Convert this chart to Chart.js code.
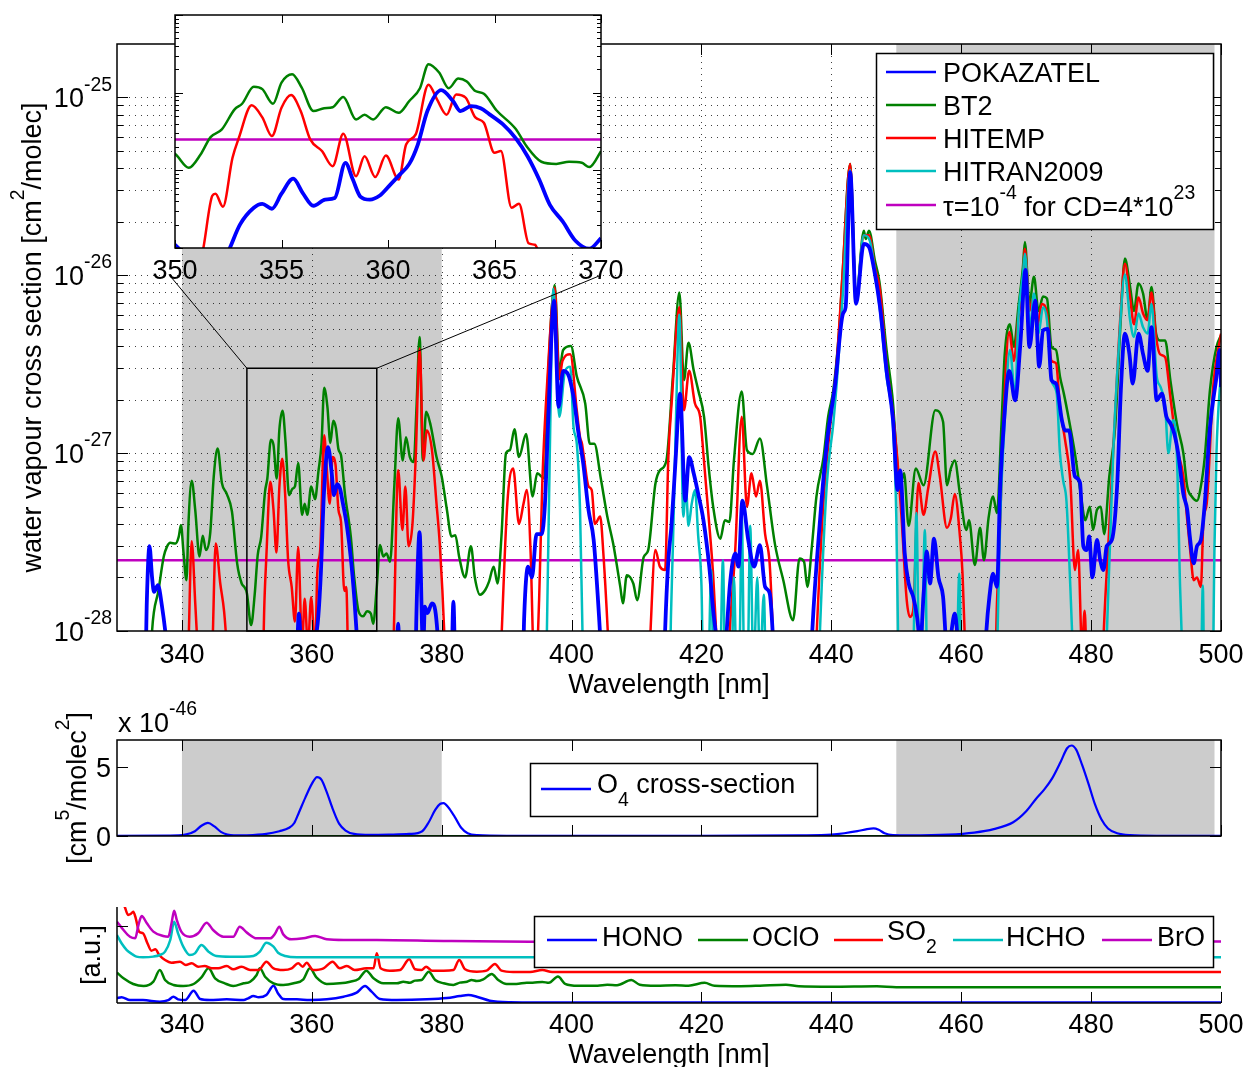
<!DOCTYPE html>
<html>
<head>
<meta charset="utf-8">
<script src="https://cdn.jsdelivr.net/npm/chart.js@4.4.1/dist/chart.umd.min.js"></script>
<style>
  body { margin: 0; background: #fff; width: 1247px; height: 1067px; overflow: hidden; position: relative; }
  canvas { position: absolute; left: 0; }
</style>
</head>
<body>
<canvas id="cMain" width="1247" height="710" style="top:0"></canvas>
<canvas id="cMid" width="1247" height="180" style="top:690px"></canvas>
<canvas id="cBot" width="1247" height="187" style="top:880px"></canvas>
<canvas id="cInset" width="640" height="300" style="top:0"></canvas>
<script>
// Water vapour cross sections, in units of 1e-28 cm^2/molec, as [wavelength nm, value].
// Values below 1 sit under the main axis floor; the inset (350-370 nm) shows them down to 0.1.
const pokazatel = [
  [330,0.3],[334.2,0.3],[334.6,1.5],[335.0,3.0],[335.4,2.0],[335.7,1.66],[336.3,1.81],[336.9,1.4],[337.7,0.8],[338.5,0.3],
  [349.5,0.14],[350.0,0.11],[350.3,0.09],[350.8,0.05],[352.0,0.05],[352.5,0.09],[353.05,0.2],[353.7,0.33],[354.1,0.37],
  [354.55,0.32],[355.0,0.5],[355.55,0.78],[356.0,0.51],[356.5,0.35],[357.05,0.42],[357.5,0.44],[358.0,1.25],[358.35,0.76],
  [358.7,0.46],[359.15,0.42],[359.6,0.47],[360.1,0.65],[360.55,0.88],[361.0,1.21],[361.4,2.15],[361.85,5.8],[362.5,10.8],
  [363.05,7.8],[363.4,5.8],[363.9,6.7],[364.35,6.3],[364.75,5.3],[365.4,3.9],[366.0,2.58],[366.55,1.52],[367.1,0.76],
  [367.6,0.36],[368.2,0.22],[368.8,0.124],[369.45,0.098],[370.0,0.134],[370.6,0.2],
  [372.8,0.3],[373.3,1.1],[373.7,0.3],[375.8,0.3],[376.1,1.2],[376.6,3.6],[377.0,1.0],[377.2,0.9],[377.4,1.37],[377.8,1.26],
  [378.5,1.43],[379.0,1.31],[379.5,0.8],[380.0,0.3],[381.4,0.4],[381.8,1.46],[382.2,0.4],[383,0.3],
  [392.3,0.3],[392.7,1.2],[393.3,2.3],[393.9,2.0],[394.6,3.5],[395.4,3.5],[395.9,5.2],[396.4,15.3],[397.3,72],[398.0,18.2],
  [398.7,29],[399.4,28],[400.3,20.7],[401.0,13.4],[401.8,8.7],[402.6,4.8],[403.4,3.25],[404.1,1.43],[404.5,0.8],[405.0,0.3],
  [414.0,0.3],[414.4,1.0],[414.9,2.5],[415.4,4.0],[416.0,9],[416.7,21.6],[417.5,5.4],[418.1,9.5],[418.8,7.7],[419.5,5.9],
  [420.3,4.2],[421.2,2.3],[421.8,1.31],[422.7,0.7],[423.2,0.5],[423.8,0.9],[424.4,1.85],[425.2,2.73],[425.7,2.3],[426.3,5.4],
  [427.2,3.25],[428.1,2.3],[429.0,3.04],[429.8,1.77],[430.5,1.63],[431.1,0.8],[431.6,0.3],
  [436.5,0.3],[437.0,0.9],[438.3,4.4],[439.3,11.3],[440.6,24.6],[441.8,61],[442.2,66],[442.9,380],[443.8,69],[445.0,150],
  [445.8,144],[446.7,102],[447.5,66],[448.5,29],[449.5,15.3],[450.2,6.2],[450.6,8.0],[451.3,2.73],[451.9,1.85],[452.6,1.56],
  [453.2,1.2],[453.7,0.85],[454.2,1.6],[454.7,2.8],[455.2,1.85],[455.8,3.3],[456.5,2.0],[457.2,1.56],[457.8,0.8],[458.3,0.9],
  [459.0,1.25],[459.6,0.7],[460.0,0.3],
  [463.3,0.3],[463.8,0.9],[464.4,1.63],[464.9,2.1],[465.5,1.77],[466.0,6.5],[466.6,15.3],[467.4,29],[468.3,19.8],[469.1,41],
  [469.9,107],[470.5,39.5],[471.4,72],[472.0,30.6],[472.6,49],[473.3,50],[473.9,25.7],[474.6,24.6],[475.5,15.3],[476.0,13.4],
  [476.6,13.4],[477.5,7.4],[478.3,6.8],[478.8,3.0],[479.3,2.85],[479.7,3.4],[480.2,2.0],[480.9,3.25],[481.4,2.5],[481.9,2.2],
  [482.4,3.0],[483.2,3.25],[484.0,6.5],[484.6,23.5],[485.2,47],[485.9,36],[486.4,24.6],[487.3,47],[488.0,36],[488.7,29],
  [489.3,51],[490.1,19.8],[490.9,21.6],[491.6,16],[492.2,14.7],[492.8,12.9],[493.4,10],[494.2,5.9],[494.8,4.8],[495.2,3.4],
  [495.8,2.4],[496.3,3.0],[496.9,3.25],[497.5,5.2],[498.3,14],[499.3,26.8],[499.8,38],[500.0,23.5]
];
const bt2 = [
  [330,0.3],[334.8,0.3],[335.4,1.0],[336.4,1.7],[337.2,2.62],[337.7,2.98],[338.2,3.13],[339.0,3.1],[339.5,3.38],[339.85,3.94],
  [340.25,2.73],[340.7,1.93],[341.0,4.0],[341.5,7.0],[342.05,4.78],[342.7,2.62],[343.2,3.43],[343.7,2.85],[344.35,3.54],
  [344.9,7.4],[345.5,10.6],[346.15,6.8],[346.9,5.9],[347.7,4.7],[348.5,2.4],[349.2,1.85],[349.6,1.77],[350.0,1.63],
  [350.65,1.08],[351.2,1.6],[351.67,2.68],[352.2,3.37],[352.8,6.1],[353.15,7.2],[353.7,11.9],[354.1,11.1],[354.6,7.2],
  [355.0,13.5],[355.5,17.3],[355.95,11.6],[356.5,5.8],[357.0,6.3],[357.4,6.5],[357.9,8.8],[358.5,4.5],[358.9,5.2],[359.3,4.5],
  [359.9,6.5],[360.5,5.5],[361.0,7.8],[361.5,11.4],[361.9,23.3],[362.4,18.2],[362.85,11.4],[363.3,15.2],[363.7,13.9],
  [364.1,10.5],[364.5,9.7],[365.1,5.9],[366.0,3.4],[366.5,2.05],[367.2,1.29],[367.9,1.21],[368.5,1.29],[369.1,1.25],
  [369.45,1.1],[370.0,1.77],[370.5,3.04],[371.0,2.62],[371.5,2.73],[372.05,2.45],[372.7,6.5],[373.3,15.7],[374.0,9.1],
  [374.5,12.3],[375.1,9.5],[375.7,8.9],[376.1,17.4],[376.6,45],[377.1,9.1],[377.6,17.1],[378.3,14.3],[379.2,9.5],[380.0,7.4],
  [380.8,4.8],[381.5,3.4],[382.1,3.45],[382.7,2.6],[383.6,2.0],[384.5,3.0],[385.1,2.0],[385.9,1.6],[386.7,1.7],[387.3,1.9],
  [388.0,2.3],[388.6,1.85],[389.2,3.4],[389.9,10],[390.5,10.4],[391.2,13.6],[391.9,9.5],[393.0,12.8],[394.0,5.7],[394.7,7.7],
  [395.8,7.2],[396.4,28],[397.4,88],[398.1,29],[398.7,38],[399.9,40],[400.8,27],[402.1,19],[402.8,11.3],[403.5,11.3],
  [404.5,7.2],[405.5,4.4],[406.4,3.1],[407.5,1.77],[407.9,1.43],[408.5,2.06],[409.5,1.85],[410.1,1.49],[411.1,2.6],
  [411.8,2.85],[412.9,6.7],[413.6,8.0],[414.6,9.1],[415.6,27],[416.6,80],[417.3,25.7],[418.0,41.7],[418.8,29.2],[419.5,22.6],
  [420.4,16],[421.1,8.4],[421.8,5.0],[422.9,3.3],[423.6,4.2],[424.3,4.1],[425.0,9.1],[426.2,22.2],[427.0,10.4],[427.9,9.9],
  [429.0,12.1],[430.1,6.5],[431.3,3.1],[432.6,1.93],[434.1,1.15],[435.1,2.56],[435.8,2.45],[436.3,1.77],[437.0,2.98],
  [437.7,5.7],[438.8,9.5],[439.5,16],[440.3,22.6],[441.2,49],[441.7,98],[442.9,422],[443.8,75],[445.0,178],[445.3,160],
  [445.8,178],[446.7,121],[447.4,92],[448.5,38],[449.5,19],[450.0,10.4],[450.6,6.7],[451.2,7.7],[451.9,3.9],[453.0,8.2],
  [454.2,6.6],[456.0,17.4],[457.2,15],[457.8,6.6],[458.4,8.2],[459.0,9.1],[459.8,5.9],[460.8,3.7],[461.2,4.2],[462.1,2.35],
  [462.9,3.8],[463.5,2.5],[464.2,4.3],[464.9,5.7],[465.5,4.6],[466.2,14.6],[466.7,36],[467.5,53],[468.1,39.5],[468.8,66],
  [469.5,111],[469.8,154],[470.5,69],[471.2,98],[471.9,63],[472.6,76],[473.2,74],[473.9,39.5],[474.6,38],[475.2,27],
  [475.8,21.6],[476.6,15.3],[477.5,10],[478.4,5.9],[479.1,4.2],[479.8,5.0],[480.3,3.7],[480.9,4.8],[481.5,5.0],[482.0,3.5],
  [482.8,7.4],[483.7,14],[484.5,51],[485.2,124],[486.0,86],[486.6,63],[487.3,90],[488.0,79],[488.7,56],[489.3,86],[490.0,47],
  [490.6,43],[491.4,43],[492.2,25.7],[493.2,14.7],[494.2,10],[494.8,6.5],[495.5,5.7],[496.3,5.4],[496.9,6.5],[497.5,9.5],
  [498.3,22.6],[499.3,39.5],[500.0,46]
];
const hitemp = [
  [330,0.3],[340.6,0.3],[341.0,0.8],[341.5,3.2],[342.05,1.43],[342.5,0.7],[343.0,0.3],[344.3,0.3],[344.7,0.8],[345.2,3.1],
  [345.9,1.85],[346.5,1.28],[346.9,0.8],[347.4,0.3],[349.5,0.05],[351.0,0.05],[351.3,0.09],[351.75,0.47],[351.9,0.5],
  [352.25,0.34],[352.7,1.45],[353.0,2.63],[353.6,6.9],[354.1,4.8],[354.55,2.76],[355.0,6.4],[355.45,9.3],[355.9,5.8],
  [356.35,2.5],[356.9,1.77],[357.4,1.13],[357.9,2.96],[358.5,0.84],[358.9,1.52],[359.4,0.82],[359.9,1.55],[360.5,0.76],
  [360.85,2.15],[361.3,2.9],[361.9,12.6],[362.3,8.2],[362.75,5.2],[363.2,9.5],[363.65,8.6],[364.1,4.8],[364.5,4.1],
  [365.0,1.68],[365.3,1.77],[365.8,0.33],[366.15,0.37],[366.6,0.115],[366.9,0.11],[367.05,0.092],[367.4,0.05],
  [371.5,0.05],[372.2,0.3],[372.6,0.9],[373.3,8.0],[373.95,3.7],[374.4,6.5],[374.9,3.0],[375.5,4.0],[376.0,9.5],[376.6,38.7],
  [377.2,9.1],[377.7,13.4],[378.5,10.4],[379.2,5.2],[379.7,3.1],[380.1,1.7],[380.5,0.8],[381.0,0.3],
  [388.7,0.3],[389.2,0.9],[390.1,5.2],[391.0,8.2],[391.9,4.0],[392.6,5.2],[393.1,6.2],[393.7,2.7],[394.1,0.8],[394.5,0.6],
  [395.0,1.5],[395.5,7],[396.3,27],[397.4,85],[398.1,26],[398.6,33],[399.8,36],[400.8,17.4],[401.3,12.3],[401.6,11.3],
  [401.9,9.5],[402.6,6.5],[403.1,6.2],[403.6,4.0],[404.4,4.4],[404.9,2.7],[405.7,0.8],[406.2,0.3],
  [411.6,0.3],[412.1,0.9],[412.9,2.85],[413.6,2.3],[414.4,2.2],[414.9,9.5],[415.4,19],[416.6,66],[417.3,17.4],[418.1,29],
  [419.0,19],[419.8,16],[420.3,9.9],[421.1,4.4],[421.8,2.06],[422.4,0.8],[422.9,0.3],
  [423.8,0.3],[424.3,0.9],[425.2,2.85],[426.2,16],[427.0,5.0],[427.7,7.7],[428.4,5.7],[429.0,7.0],[429.8,3.5],[430.5,2.4],
  [431.1,0.8],[431.6,0.3],
  [437.2,0.3],[437.7,0.9],[438.8,5.4],[439.8,14],[440.8,31.8],[441.7,98],[442.9,422],[443.8,72],[445.0,168],[445.8,168],
  [446.7,111],[447.5,82],[448.5,31.8],[449.5,16.6],[450.3,8.0],[450.8,4.4],[451.6,1.5],[452.1,1.2],[452.6,1.3],[453.4,6.8],
  [454.2,4.5],[454.9,6.3],[456.0,10.2],[456.7,7.4],[457.8,3.8],[458.4,4.3],[459.0,5.9],[459.8,3.4],[460.2,2.1],[460.6,0.8],
  [461.0,0.3],
  [465.0,0.3],[465.5,1.43],[466.0,4.2],[466.5,15.3],[467.4,48],[468.1,33],[468.8,58],[469.5,91],[469.8,141],[470.5,63],
  [471.1,75],[471.7,51],[472.4,69],[473.2,61],[473.9,33],[474.6,32],[475.2,18.2],[476.0,11.8],[476.8,7.0],[477.5,2.2],
  [478.0,2.85],[478.6,0.8],[479.0,1.3],[479.3,0.7],[479.8,0.3],
  [481.5,0.3],[481.9,0.9],[482.8,3.85],[483.7,16.7],[484.5,58],[485.2,116],[486.0,75],[486.6,53],[487.3,75],[488.0,61],
  [488.7,56],[489.3,80],[490.0,45],[490.6,36],[491.4,34.6],[492.2,20.7],[493.2,10.8],[494.2,7.4],[494.8,4.2],[495.3,2.73],
  [495.8,1.93],[496.3,2.0],[496.9,1.77],[497.3,4.2],[497.8,5.2],[498.8,23.5],[500.0,47]
];
const hitran2009 = [
  [330,0.05],[395.8,0.05],[396.2,1.0],[396.6,8],[397.2,84],[398.1,16],[399.0,29],[399.8,30.6],[400.3,14],[400.8,11.3],
  [401.3,4.8],[401.7,0.9],[402.1,0.3],
  [415.0,0.3],[415.3,1.2],[415.6,3.0],[416.0,12],[416.6,60],[417.2,4.4],[417.6,6.5],[418.0,3.9],[418.5,5.2],[419.0,6.2],
  [419.5,3.4],[420.0,1.8],[420.3,0.5],[421.0,0.5],[421.5,2.2],[421.9,0.5],[422.8,0.5],[423.3,2.5],[423.7,0.5],[424.6,0.5],
  [425.0,2.0],[425.4,0.6],[425.9,0.9],[426.2,4.5],[426.6,0.6],[427.1,0.6],[427.5,3.9],[428.0,0.6],[428.6,2.0],[429.0,0.6],
  [429.6,1.6],[430.0,0.4],[430.5,0.3],
  [437.8,0.3],[438.2,0.9],[439.3,6.7],[440.3,14.7],[441.0,30],[441.8,82],[442.9,390],[443.8,75],[445.0,168],[445.9,157],
  [446.7,106],[447.5,63],[448.5,27],[449.5,14],[450.0,4.4],[450.3,0.8],[450.6,0.3],
  [452.3,0.3],[452.7,1.0],[453.1,4.6],[453.5,0.8],[453.9,0.8],[454.4,3.7],[454.8,0.5],[459.2,0.5],[459.7,2.1],[460.1,0.4],
  [465.2,0.3],[465.6,1.0],[466.0,4.2],[466.7,15.3],[467.5,38],[468.3,20.7],[468.8,58],[469.5,101],[469.8,132],[470.6,51],
  [471.2,79],[471.9,47],[472.6,66],[473.2,56],[473.9,25.7],[474.7,21.6],[475.2,10],[475.7,7.0],[476.2,5.4],[476.8,1.77],
  [477.3,0.6],[477.7,0.3],
  [482.0,0.3],[482.4,0.9],[483.4,10],[484.2,36],[485.2,101],[486.0,56],[486.6,45],[487.3,61],[488.0,51],[488.7,47],
  [489.3,69],[490.1,27],[490.7,23.5],[491.4,18.2],[491.9,10],[492.6,15.3],[493.2,10],[493.7,1.77],[494.2,0.5],[494.6,0.3],
  [496.8,0.3],[497.2,1.8],[497.5,0.3],[498.6,0.3],[499.0,3],[499.3,10],[500.0,29]
];
// tau = 1e-4 for a column density of 4e23 -> 2.5e-28
const tauLevel = [[330,2.5],[500,2.5]];

// O4 cross-section, units of 1e-46 cm^5/molec^2
const o4 = [
  [330,0.02],[338,0.03],[340.5,0.1],[342,0.35],[343,0.75],[344,0.95],[345,0.7],[346,0.3],[347,0.1],[348,0.04],[350,0.05],
  [353,0.15],[355,0.35],[356.5,0.6],[357.3,0.95],[358,1.7],[359,2.8],[360,3.8],[360.8,4.3],[361.5,4.1],[362.3,3.2],
  [363.2,2.0],[364.2,0.9],[365.2,0.4],[366.5,0.15],[369,0.08],[372,0.1],[375,0.15],[377,0.35],[378,1.0],[379,1.9],
  [379.8,2.35],[380.3,2.4],[381,2.1],[382,1.4],[383,0.6],[384,0.2],[385.5,0.06],[390,0.02],[420,0.02],[435,0.05],
  [440,0.1],[442,0.2],[444,0.35],[445.5,0.5],[446.5,0.55],[447.3,0.45],[448.2,0.2],[449.5,0.07],[452,0.05],[458,0.1],
  [462,0.25],[465,0.5],[468,1.0],[470,1.8],[471.5,2.7],[472.8,3.4],[474,4.2],[475.3,5.4],[476.3,6.4],[477,6.6],[477.7,6.3],
  [478.6,5.2],[479.6,3.8],[480.6,2.3],[481.6,1.2],[482.6,0.55],[484,0.2],[486,0.06],[490,0.02],[500,0.02]
];
const o4Baseline = [[330,0],[500,0]];

// Reference absorbers, arbitrary units, offset for display
const hono = [
  [330,0.05],[330.7,0.06],[332,0.03],[334,0.03],[336.6,0.014],[337.9,0.03],[338.7,0.066],[339.4,0.038],[340.5,0.031],
  [341.8,0.128],[342.8,0.042],[344.3,0.031],[346.9,0.038],[349.5,0.031],[350.2,0.049],[351,0.073],[351.8,0.059],[353,0.083],
  [354.1,0.18],[354.8,0.1],[355.6,0.042],[357.7,0.038],[359.7,0.031],[362.3,0.038],[364.9,0.066],[366.9,0.108],[368.2,0.177],
  [369.2,0.118],[370.5,0.042],[373.1,0.031],[377.7,0.038],[380.8,0.052],[382.8,0.073],[384.1,0.083],[385.4,0.066],
  [387.4,0.024],[390.5,0.007],[395,0.004],[500,0.004]
];
const oclo = [
  [330,0.316],[331,0.257],[332.5,0.198],[334.1,0.177],[335.6,0.222],[336.6,0.344],[337.4,0.24],[338.7,0.188],[340.2,0.177],
  [341.8,0.198],[343,0.267],[344.1,0.361],[345.1,0.257],[346.6,0.205],[347.9,0.177],[349.5,0.205],[350.5,0.222],[351.5,0.292],
  [352,0.361],[352.8,0.274],[354.1,0.205],[355.6,0.188],[357.2,0.205],[358.7,0.247],[359.7,0.361],[360.7,0.267],[362.3,0.198],
  [364.3,0.205],[365.9,0.222],[367.2,0.25],[368.4,0.337],[369.5,0.257],[371,0.205],[373.1,0.205],[374.1,0.222],[375.1,0.212],
  [375.9,0.233],[376.9,0.24],[378,0.326],[379,0.24],[380.3,0.205],[381.8,0.188],[382.8,0.212],[383.9,0.222],[384.6,0.24],
  [385.4,0.229],[386.4,0.247],[387.7,0.302],[388.7,0.24],[390,0.198],[391.5,0.198],[393.1,0.212],[394,0.21],[395.5,0.22],
  [396.5,0.21],[397.9,0.275],[399,0.2],[401,0.18],[404,0.18],[405.5,0.19],[407,0.185],[409.2,0.24],[410.5,0.19],[413,0.18],
  [416,0.185],[418,0.18],[420.5,0.21],[422,0.18],[426,0.175],[429,0.18],[433,0.19],[435,0.175],[440,0.17],[447,0.175],
  [450,0.165],[500,0.163]
];
const so2 = [
  [330,1.15],[331.2,1.0],[331.7,0.917],[332.1,0.927],[332.5,0.95],[332.9,0.88],[333.4,0.743],[334,0.726],[334.7,0.62],
  [335.3,0.545],[335.9,0.559],[336.5,0.5],[337.4,0.448],[338.4,0.42],[339.7,0.43],[340.6,0.396],[341.5,0.413],[342.5,0.378],
  [343.5,0.385],[344.6,0.361],[345.6,0.361],[346.9,0.385],[347.9,0.351],[349.2,0.378],[350.5,0.344],[351.8,0.344],[353,0.43],
  [354.1,0.361],[355.6,0.344],[356.9,0.361],[357.9,0.413],[358.6,0.378],[359.2,0.42],[360.2,0.344],[361.8,0.361],[363.2,0.43],
  [364.3,0.361],[365.4,0.385],[366.6,0.344],[368.4,0.361],[369.5,0.361],[370,0.517],[370.6,0.361],[372,0.337],[373.6,0.344],
  [375,0.455],[375.9,0.351],[376.9,0.344],[377.6,0.378],[378.5,0.337],[380.3,0.337],[381.8,0.344],[382.7,0.448],[383.6,0.351],
  [385.4,0.326],[386.9,0.337],[388.2,0.406],[389.2,0.337],[391,0.323],[393.6,0.323],[395.5,0.344],[397,0.323],[500,0.323]
];
const hcho = [
  [330,0.708],[330.7,0.622],[331.5,0.552],[332.3,0.51],[333,0.483],[334,0.476],[335.6,0.483],[336.6,0.5],[337.4,0.535],
  [338.2,0.656],[338.8,0.847],[339.4,0.726],[340.2,0.587],[341.2,0.5],[342,0.517],[343,0.604],[344.1,0.535],[345.3,0.49],
  [347.4,0.483],[349.5,0.483],[351,0.49],[352,0.535],[353,0.628],[354.1,0.587],[354.8,0.524],[355.9,0.49],[357.7,0.476],
  [359.7,0.476],[500,0.476]
];
const bro = [
  [330,0.847],[331,0.76],[332,0.69],[332.8,0.674],[333.3,0.812],[333.8,0.906],[334.6,0.83],[335.6,0.743],[337.1,0.698],
  [337.9,0.69],[338.4,0.83],[338.8,0.962],[339.2,0.865],[339.9,0.743],[341.2,0.69],[342.5,0.726],[343.8,0.837],[344.8,0.76],
  [346.4,0.69],[347.9,0.69],[348.9,0.795],[350,0.733],[351.5,0.674],[353.6,0.674],[354.3,0.719],[355,0.795],[355.6,0.715],
  [356.9,0.663],[358.7,0.674],[360.5,0.698],[362.3,0.663],[364.9,0.656],[370,0.656],[380.3,0.646],[393.6,0.639],[500,0.64]
];

const WL_TICKS = [340, 360, 380, 400, 420, 440, 460, 480, 500];
const INSET_TICKS = [350, 355, 360, 365, 370];
const MAIN_DECADES = [1, 10, 100, 1000];       // 1e-28 .. 1e-25
const MAIN_EXPONENTS = ["-28", "-27", "-26", "-25"];
const MID_Y_TICKS = [0, 5];
const GRAY_BANDS = [[340, 380], [450, 499]];
const ZOOM_BOX = {x0: 350, x1: 370, top: 30};

const BLUE = "#0000ff", GREEN = "#008000", RED = "#ff0000", CYAN = "#00bfbf", MAGENTA = "#bf00bf";
const FONT = '"Liberation Sans", Arial, Helvetica, sans-serif';
const FS = 27;

const pts = (arr) => arr.map(([x, y]) => ({x, y}));

function setFont(ctx, size) { ctx.font = `${size}px ${FONT}`; }
function richWidth(ctx, parts, size) {
  let w = 0;
  for (const [t, m] of parts) { setFont(ctx, m ? size * 0.72 : size); w += ctx.measureText(t).width; }
  return w;
}
// parts: [[text, ''|'sup'|'sub'], ...]; y is the baseline of the normal text
function drawRich(ctx, parts, x, y, size, align) {
  const w = richWidth(ctx, parts, size);
  let cx = align === "right" ? x - w : align === "center" ? x - w / 2 : x;
  ctx.textAlign = "left";
  ctx.textBaseline = "alphabetic";
  ctx.fillStyle = "#000";
  for (const [t, m] of parts) {
    setFont(ctx, m ? size * 0.72 : size);
    const dy = m === "sup" ? -size * 0.62 : m === "sub" ? size * 0.48 : 0;
    ctx.fillText(t, cx, y + dy);
    cx += ctx.measureText(t).width;
  }
}
function seg(ctx, x0, y0, x1, y1) { ctx.beginPath(); ctx.moveTo(x0, y0); ctx.lineTo(x1, y1); ctx.stroke(); }

function logTicks(lo, hi) {
  const out = [];
  for (let d = lo; d <= hi * 1.0001; d *= 10) {
    for (let k = 1; k <= 9; k++) {
      const v = d * k;
      if (v >= lo * 0.9999 && v <= hi * 1.0001) out.push({v, major: k === 1});
    }
  }
  return out;
}

function drawLegend(ctx, box, items, offY) {
  ctx.fillStyle = "#fff";
  ctx.fillRect(box[0], box[1] - offY, box[2], box[3]);
  ctx.strokeStyle = "#000";
  ctx.lineWidth = 1.5;
  ctx.strokeRect(box[0] + 0.5, box[1] - offY + 0.5, box[2], box[3]);
  for (const it of items) {
    ctx.strokeStyle = it.color;
    ctx.lineWidth = 2.5;
    seg(ctx, it.x0, it.y - offY, it.x1, it.y - offY);
    drawRich(ctx, it.parts, it.tx, it.base - offY, FS, "left");
  }
}

// MATLAB-style axes: white plot box, optional gray bands, dotted grid, inward ticks
function axesFrame(cfg) {
  return {
    id: "axesFrame",
    beforeDatasetsDraw(chart) {
      const {ctx, chartArea: a} = chart;
      const xs = chart.scales.x, ys = chart.scales.y;
      ctx.save();
      if (cfg.fill) { ctx.fillStyle = cfg.fill; ctx.fillRect(a.left, a.top, a.width, a.height); }
      for (const [b0, b1] of cfg.bands || []) {
        const p0 = xs.getPixelForValue(b0), p1 = xs.getPixelForValue(b1);
        ctx.fillStyle = "#cccccc";
        ctx.fillRect(p0, a.top, p1 - p0, a.height);
      }
      if (cfg.grid) {
        ctx.strokeStyle = "rgba(0,0,0,0.75)";
        ctx.lineWidth = 1;
        ctx.setLineDash([1, 5]);
        for (const v of cfg.grid.x) {
          const px = Math.round(xs.getPixelForValue(v)) + 0.5;
          if (px > a.left + 2 && px < a.right - 2) seg(ctx, px, a.top, px, a.bottom);
        }
        for (const v of cfg.grid.y) {
          const py = Math.round(ys.getPixelForValue(v)) + 0.5;
          if (py > a.top + 2 && py < a.bottom - 2) seg(ctx, a.left, py, a.right, py);
        }
        ctx.setLineDash([]);
      }
      ctx.restore();
    },
    afterDatasetsDraw(chart) {
      const {ctx, chartArea: a} = chart;
      const xs = chart.scales.x, ys = chart.scales.y;
      ctx.save();
      ctx.strokeStyle = "#000";
      ctx.lineWidth = 1;
      for (const t of cfg.xTicks || []) {
        const px = Math.round(xs.getPixelForValue(t.v)) + 0.5;
        seg(ctx, px, a.bottom, px, a.bottom - t.len);
        if (cfg.mirror) seg(ctx, px, a.top, px, a.top + t.len);
      }
      for (const t of cfg.yTicks || []) {
        const py = Math.round(ys.getPixelForValue(t.v)) + 0.5;
        seg(ctx, a.left, py, a.left + t.len, py);
        if (cfg.mirror) seg(ctx, a.right, py, a.right - t.len, py);
      }
      ctx.lineWidth = 1.5;
      if (cfg.box === "full") {
        ctx.strokeRect(a.left, a.top, a.width, a.height);
      } else {
        seg(ctx, a.left, a.top, a.left, a.bottom);
        seg(ctx, a.left, a.bottom, a.right, a.bottom);
      }
      if (cfg.after) cfg.after(ctx, chart, a, xs, ys);
      ctx.restore();
    },
  };
}

function lineSet(data, color, width, order) {
  return {
    data: pts(data), borderColor: color, borderWidth: width, pointRadius: 0, fill: false,
    cubicInterpolationMode: "monotone", clip: 0, order,
  };
}

function baseOptions(xMin, xMax, yType, yMin, yMax, padding) {
  return {
    responsive: false, animation: false, parsing: false, normalized: true, events: [],
    layout: {padding},
    scales: {
      x: {type: "linear", min: xMin, max: xMax, display: false},
      y: {type: yType, min: yMin, max: yMax, display: false},
    },
    plugins: {legend: {display: false}, tooltip: {enabled: false}},
  };
}

const wlMajor = WL_TICKS.map((v) => ({v, len: 11}));
const mainLog = logTicks(1, 1995);

// ---------------- main panel ----------------
new Chart(document.getElementById("cMain"), {
  type: "line",
  data: {datasets: [
    lineSet(tauLevel, MAGENTA, 2.5, 5),
    lineSet(bt2, GREEN, 2.5, 4),
    lineSet(hitemp, RED, 2.5, 3),
    lineSet(hitran2009, CYAN, 2.5, 2),
    lineSet(pokazatel, BLUE, 3.8, 1),
  ]},
  options: baseOptions(330, 500, "logarithmic", 1, 1995, {left: 117, right: 26, top: 44, bottom: 79}),
  plugins: [axesFrame({
    fill: "#fff", bands: GRAY_BANDS, box: "full", mirror: true,
    grid: {x: WL_TICKS, y: mainLog.map((t) => t.v)},
    xTicks: wlMajor,
    yTicks: mainLog.map((t) => ({v: t.v, len: t.major ? 11 : 6})),
    after(ctx, chart, a, xs, ys) {
      // zoom rectangle and connectors to the inset
      const bx0 = xs.getPixelForValue(ZOOM_BOX.x0), bx1 = xs.getPixelForValue(ZOOM_BOX.x1);
      const by = ys.getPixelForValue(ZOOM_BOX.top);
      ctx.strokeStyle = "#000";
      ctx.lineWidth = 1.5;
      ctx.strokeRect(bx0, by, bx1 - bx0, a.bottom - by);
      ctx.lineWidth = 1;
      seg(ctx, bx0, by, 171, 277);
      seg(ctx, bx1, by, 599, 276);
      // tick labels
      WL_TICKS.forEach((v) => drawRich(ctx, [[String(v), ""]], xs.getPixelForValue(v), a.bottom + 32, FS, "center"));
      MAIN_DECADES.forEach((v, i) =>
        drawRich(ctx, [["10", ""], [MAIN_EXPONENTS[i], "sup"]], a.left - 5, ys.getPixelForValue(v) + 10, FS, "right"));
      drawRich(ctx, [["Wavelength [nm]", ""]], (a.left + a.right) / 2, a.bottom + 62, FS, "center");
      ctx.save();
      ctx.translate(41, (a.top + a.bottom) / 2);
      ctx.rotate(-Math.PI / 2);
      drawRich(ctx, [["water vapour cross section [cm", ""], ["2", "sup"], ["/molec]", ""]], 0, 0, FS, "center");
      ctx.restore();
      drawLegend(ctx, [876, 53, 337, 176], [
        {color: BLUE, x0: 886, x1: 936, tx: 943, y: 72, base: 82, parts: [["POKAZATEL", ""]]},
        {color: GREEN, x0: 886, x1: 936, tx: 943, y: 105, base: 115, parts: [["BT2", ""]]},
        {color: RED, x0: 886, x1: 936, tx: 943, y: 138, base: 148, parts: [["HITEMP", ""]]},
        {color: CYAN, x0: 886, x1: 936, tx: 943, y: 171, base: 181, parts: [["HITRAN2009", ""]]},
        {color: MAGENTA, x0: 886, x1: 936, tx: 943, y: 205, base: 216,
          parts: [["\u03c4=10", ""], ["-4", "sup"], [" for CD=4*10", ""], ["23", "sup"]]},
      ], 0);
    },
  })],
});

// ---------------- inset (350-370 nm) ----------------
const insetLog = logTicks(0.1, 100);
new Chart(document.getElementById("cInset"), {
  type: "line",
  data: {datasets: [
    lineSet(tauLevel, MAGENTA, 2.5, 5),
    lineSet(bt2, GREEN, 2.5, 4),
    lineSet(hitemp, RED, 2.5, 3),
    lineSet(hitran2009, CYAN, 2.5, 2),
    lineSet(pokazatel, BLUE, 3.8, 1),
  ]},
  options: baseOptions(350, 370, "logarithmic", 0.1, 100, {left: 175, right: 39, top: 15, bottom: 52}),
  plugins: [axesFrame({
    fill: "#fff", box: "full", mirror: true,
    xTicks: INSET_TICKS.map((v) => ({v, len: 8})),
    yTicks: insetLog.map((t) => ({v: t.v, len: t.major ? 8 : 4})),
    after(ctx, chart, a, xs) {
      INSET_TICKS.forEach((v) => drawRich(ctx, [[String(v), ""]], xs.getPixelForValue(v), a.bottom + 31, FS, "center"));
    },
  })],
});

// ---------------- O4 panel ----------------
const MID_TOP = 690;
new Chart(document.getElementById("cMid"), {
  type: "line",
  data: {datasets: [
    lineSet(o4Baseline, GREEN, 2, 2),
    lineSet(o4, BLUE, 2.2, 1),
  ]},
  options: baseOptions(330, 500, "linear", 0, 7, {left: 117, right: 26, top: 50, bottom: 34}),
  plugins: [axesFrame({
    fill: "#fff", bands: GRAY_BANDS, box: "full", mirror: true,
    xTicks: wlMajor,
    yTicks: MID_Y_TICKS.map((v) => ({v, len: 11})),
    after(ctx, chart, a, xs, ys) {
      MID_Y_TICKS.forEach((v) => drawRich(ctx, [[String(v), ""]], a.left - 6, ys.getPixelForValue(v) + 10, FS, "right"));
      drawRich(ctx, [["x 10", ""], ["-46", "sup"]], a.left + 1, a.top - 8, FS, "left");
      ctx.save();
      ctx.translate(86, (a.top + a.bottom) / 2);
      ctx.rotate(-Math.PI / 2);
      drawRich(ctx, [["[cm", ""], ["5", "sup"], ["/molec", ""], ["2", "sup"], ["]", ""]], 0, 0, FS, "center");
      ctx.restore();
      drawLegend(ctx, [530, 763, 287, 53], [
        {color: BLUE, x0: 541, x1: 591, tx: 597, y: 789, base: 793, parts: [["O", ""], ["4", "sub"], [" cross-section", ""]]},
      ], MID_TOP);
    },
  })],
});

// ---------------- reference absorbers panel ----------------
const BOT_TOP = 880;
new Chart(document.getElementById("cBot"), {
  type: "line",
  data: {datasets: [
    lineSet(hono, BLUE, 2.5, 5),
    lineSet(oclo, GREEN, 2.5, 4),
    lineSet(so2, RED, 2.5, 3),
    lineSet(hcho, CYAN, 2.5, 2),
    lineSet(bro, MAGENTA, 2.5, 1),
  ]},
  options: baseOptions(330, 500, "linear", 0, 1, {left: 117, right: 26, top: 27, bottom: 64}),
  plugins: [axesFrame({
    box: "lb", mirror: false,
    xTicks: wlMajor,
    yTicks: [{v: 0.8, len: 11}],
    after(ctx, chart, a, xs) {
      WL_TICKS.forEach((v) => drawRich(ctx, [[String(v), ""]], xs.getPixelForValue(v), a.bottom + 30, FS, "center"));
      drawRich(ctx, [["Wavelength [nm]", ""]], (a.left + a.right) / 2, a.bottom + 60, FS, "center");
      ctx.save();
      ctx.translate(100, (a.top + a.bottom) / 2);
      ctx.rotate(-Math.PI / 2);
      drawRich(ctx, [["[a.u.]", ""]], 0, 0, FS, "center");
      ctx.restore();
      drawLegend(ctx, [534, 916, 679, 51], [
        {color: BLUE, x0: 547, x1: 597, tx: 602, y: 940, base: 946, parts: [["HONO", ""]]},
        {color: GREEN, x0: 698, x1: 748, tx: 752, y: 940, base: 946, parts: [["OClO", ""]]},
        {color: RED, x0: 834, x1: 883, tx: 887, y: 940, base: 940, parts: [["SO", ""], ["2", "sub"]]},
        {color: CYAN, x0: 953, x1: 1003, tx: 1006, y: 940, base: 946, parts: [["HCHO", ""]]},
        {color: MAGENTA, x0: 1102, x1: 1152, tx: 1157, y: 940, base: 946, parts: [["BrO", ""]]},
      ], BOT_TOP);
    },
  })],
});
</script>
</body>
</html>
